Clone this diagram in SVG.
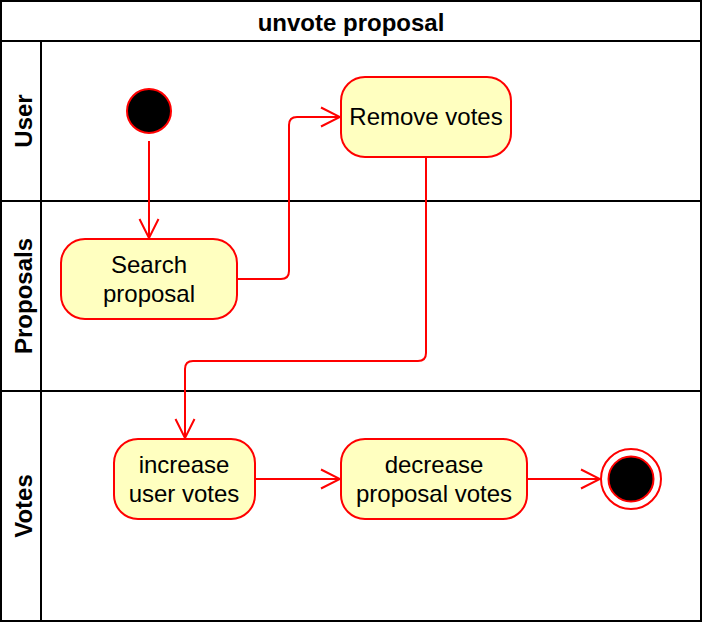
<svg xmlns="http://www.w3.org/2000/svg" width="702" height="622" viewBox="0 0 702 622">
  <style>
    .lane { fill: none; stroke: #000000; stroke-width: 2; }
    .title { font-family: "Liberation Sans", Arial, sans-serif; font-size: 24px; font-weight: bold; fill: #000000; text-anchor: middle; }
    .act { fill: #FFFFC0; stroke: #FF0000; stroke-width: 2; }
    .label { font-family: "Liberation Sans", Arial, sans-serif; font-size: 24px; fill: #000000; text-anchor: middle; }
    .edge { fill: none; stroke: #FF0000; stroke-width: 2; }
    .start { fill: #000000; stroke: #FF0000; stroke-width: 2; }
  </style>
  <defs>
    <marker id="arr" markerUnits="userSpaceOnUse" markerWidth="22" markerHeight="22" viewBox="0 0 22 22" refX="20" refY="11" orient="auto">
      <path d="M1,1.5 L20,11 L1,20.5" fill="none" stroke="#FF0000" stroke-width="2"/>
    </marker>
  </defs>
  <rect width="702" height="622" fill="#FFFFFF"/>
  <g id="pool">
    <rect class="lane" x="1" y="1" width="700" height="620"/>
    <line class="lane" x1="1" y1="41" x2="701" y2="41"/>
    <text class="title" x="351" y="31">unvote proposal</text>
  </g>
  <g id="lane-user">
    <line class="lane" x1="41" y1="41" x2="41" y2="201"/>
    <text class="title" transform="translate(32,121) rotate(-90)">User</text>
  </g>
  <g id="lane-proposals">
    <line class="lane" x1="1" y1="201" x2="701" y2="201"/>
    <line class="lane" x1="41" y1="201" x2="41" y2="391"/>
    <text class="title" transform="translate(32,296) rotate(-90)">Proposals</text>
  </g>
  <g id="lane-votes">
    <line class="lane" x1="1" y1="391" x2="701" y2="391"/>
    <line class="lane" x1="41" y1="391" x2="41" y2="621"/>
    <text class="title" transform="translate(32,506) rotate(-90)">Votes</text>
  </g>
  <g id="connectors">
    <path class="edge" d="M149,141 L149,238" marker-end="url(#arr)"/>
    <path class="edge" d="M237,279 L281,279 Q289,279 289,271 L289,125 Q289,117 297,117 L340,117" marker-end="url(#arr)"/>
    <path class="edge" d="M426,157 L426,353 Q426,361 418,361 L193,361 Q185,361 185,369 L185,438" marker-end="url(#arr)"/>
    <path class="edge" d="M255,479 L340,479" marker-end="url(#arr)"/>
    <path class="edge" d="M527,479 L600,479" marker-end="url(#arr)"/>
  </g>
  <g id="start">
    <circle class="start" cx="149" cy="111" r="22"/>
  </g>
  <g id="search-proposal">
    <rect class="act" x="61" y="239" width="176" height="80" rx="24" ry="24"/>
    <text class="label" x="149" y="273">Search</text>
    <text class="label" x="149" y="302">proposal</text>
  </g>
  <g id="remove-votes">
    <rect class="act" x="341" y="77" width="170" height="80" rx="24" ry="24"/>
    <text class="label" x="426" y="125">Remove votes</text>
  </g>
  <g id="increase-user-votes">
    <rect class="act" x="114" y="439" width="141" height="80" rx="24" ry="24"/>
    <text class="label" x="184" y="473">increase</text>
    <text class="label" x="184" y="502">user votes</text>
  </g>
  <g id="decrease-proposal-votes">
    <rect class="act" x="341" y="439" width="186" height="80" rx="24" ry="24"/>
    <text class="label" x="434" y="473">decrease</text>
    <text class="label" x="434" y="502">proposal votes</text>
  </g>
  <g id="end">
    <circle cx="631" cy="479" r="30" fill="#FFFFFF" stroke="#FF0000" stroke-width="2"/>
    <circle class="start" cx="631" cy="479" r="22.5"/>
  </g>
</svg>
